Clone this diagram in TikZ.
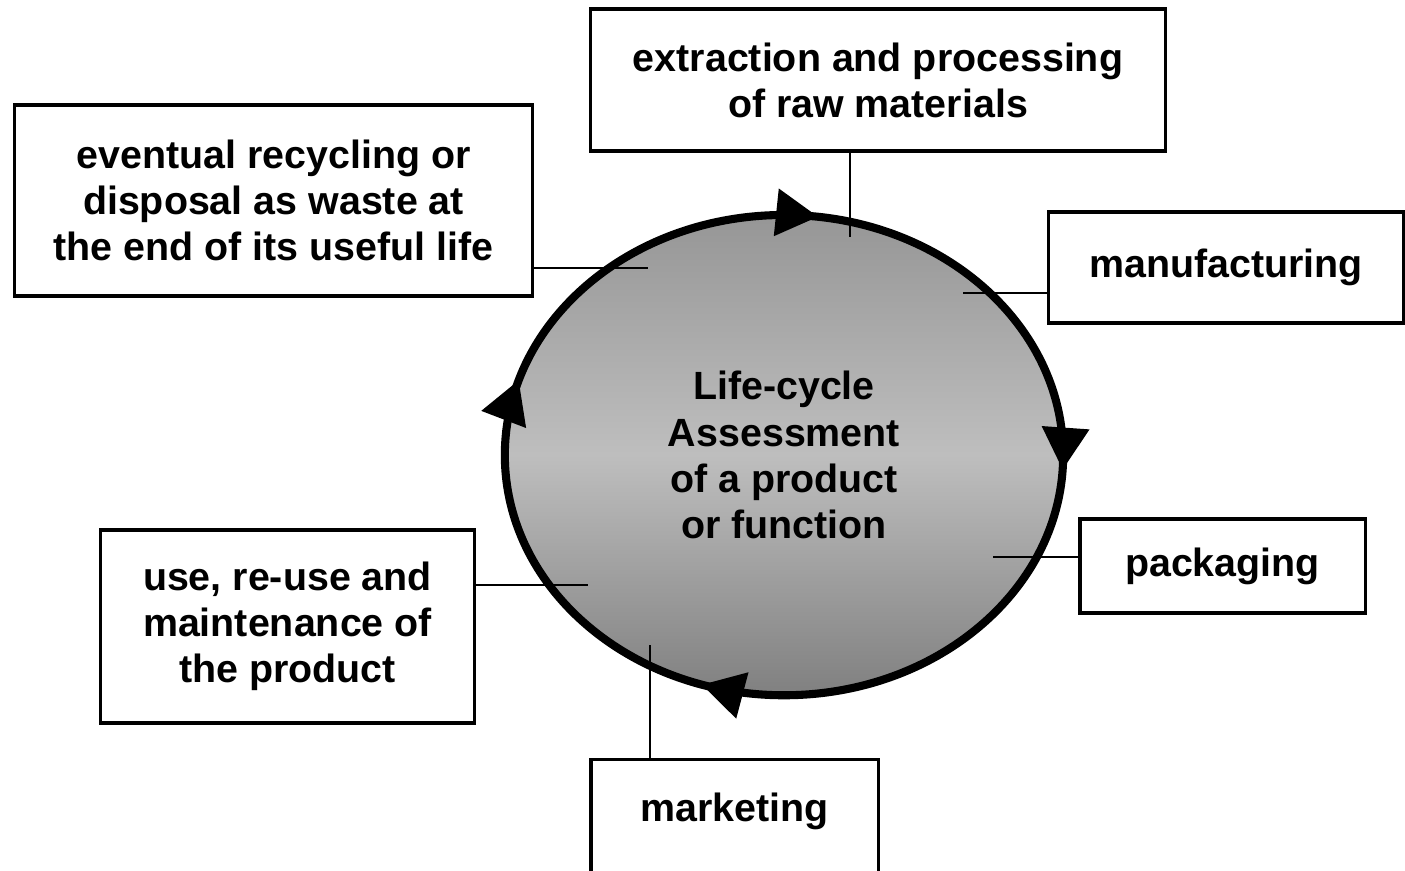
\documentclass[tikz,border=0pt]{standalone}
\usepackage{fontspec}
\setmainfont{Liberation Sans}
\usetikzlibrary{shapes.geometric,arrows.meta,decorations.markings}
\definecolor{cycletop}{RGB}{150,150,150}
\definecolor{cyclemid}{RGB}{190,190,190}
\definecolor{cyclebot}{RGB}{128,128,128}

\begin{document}
\begin{tikzpicture}[x=0.01cm, y=-0.01cm,
    box/.style={draw, line width=0.9pt, align=center, inner sep=0pt,
        font=\fontsize{11.2}{13.1}\selectfont\bfseries},
    link/.style={line width=0.7pt},
    cyclearrow/.style={line width=2.3pt,
        decoration={markings,
            mark=at position 0.021 with {\arrow{Triangle[length=12pt,width=13pt]}},
            mark=at position 0.259 with {\arrow{Triangle[length=12pt,width=13pt]}},
            mark=at position 0.551 with {\arrow{Triangle[length=12pt,width=13pt]}},
            mark=at position 0.797 with {\arrow{Triangle[length=12pt,width=13pt]}}},
        postaction={decorate}}]
    \useasboundingbox (0,0) rectangle (1405,871);
    \clip (0,0) rectangle (1405,871);

    % Centre of the cycle
    \node[ellipse, minimum width=5.58cm, minimum height=4.80cm, inner sep=0pt,
        top color=cycletop, bottom color=cyclebot, middle color=cyclemid,
        align=center, font=\fontsize{11.2}{13.1}\selectfont\bfseries]
        (lca) at (784,455) {Life-cycle\\Assessment\\of a product\\or function};

    % Stages
    \node[box, minimum width=5.74cm, minimum height=1.42cm] (extract) at (878,80)
        {extraction and processing\\of raw materials};
    \node[box, minimum width=3.54cm, minimum height=1.11cm] (manuf) at (1226,267.5)
        {manufacturing};
    \node[box, minimum width=2.85cm, minimum height=0.94cm] (pack) at (1222.5,566)
        {packaging};
    \node[box, minimum width=2.87cm, minimum height=1.5cm, anchor=north,
        text depth=0.55cm] (market) at (734.5,758) {marketing};
    \node[box, minimum width=3.73cm, minimum height=1.93cm] (use) at (287.5,626.5)
        {use, re-use and\\maintenance of\\the product};
    \node[box, minimum width=5.17cm, minimum height=1.91cm] (recyc) at (273.5,200.5)
        {eventual recycling or\\disposal as waste at\\the end of its useful life};

    % Links into the circle
    \coordinate (extract-end) at (850,237);
    \coordinate (manuf-end) at (963,293);
    \coordinate (pack-end) at (993,557);
    \coordinate (market-end) at (650,645);
    \coordinate (use-end) at (588,585);
    \coordinate (recyc-end) at (648,268);

    \draw[link] (extract.south -| extract-end) -- (extract-end);
    \draw[link] (manuf.west |- manuf-end) -- (manuf-end);
    \draw[link] (pack.west |- pack-end) -- (pack-end);
    \draw[link] (market.north -| market-end) -- (market-end);
    \draw[link] (use.east |- use-end) -- (use-end);
    \draw[link] (recyc.east |- recyc-end) -- (recyc-end);

    % Cycle with arrows (clockwise)
    \draw[cyclearrow] (784,215) arc[start angle=90, end angle=-270,
        x radius=2.79cm, y radius=2.40cm];
\end{tikzpicture}
\end{document}
